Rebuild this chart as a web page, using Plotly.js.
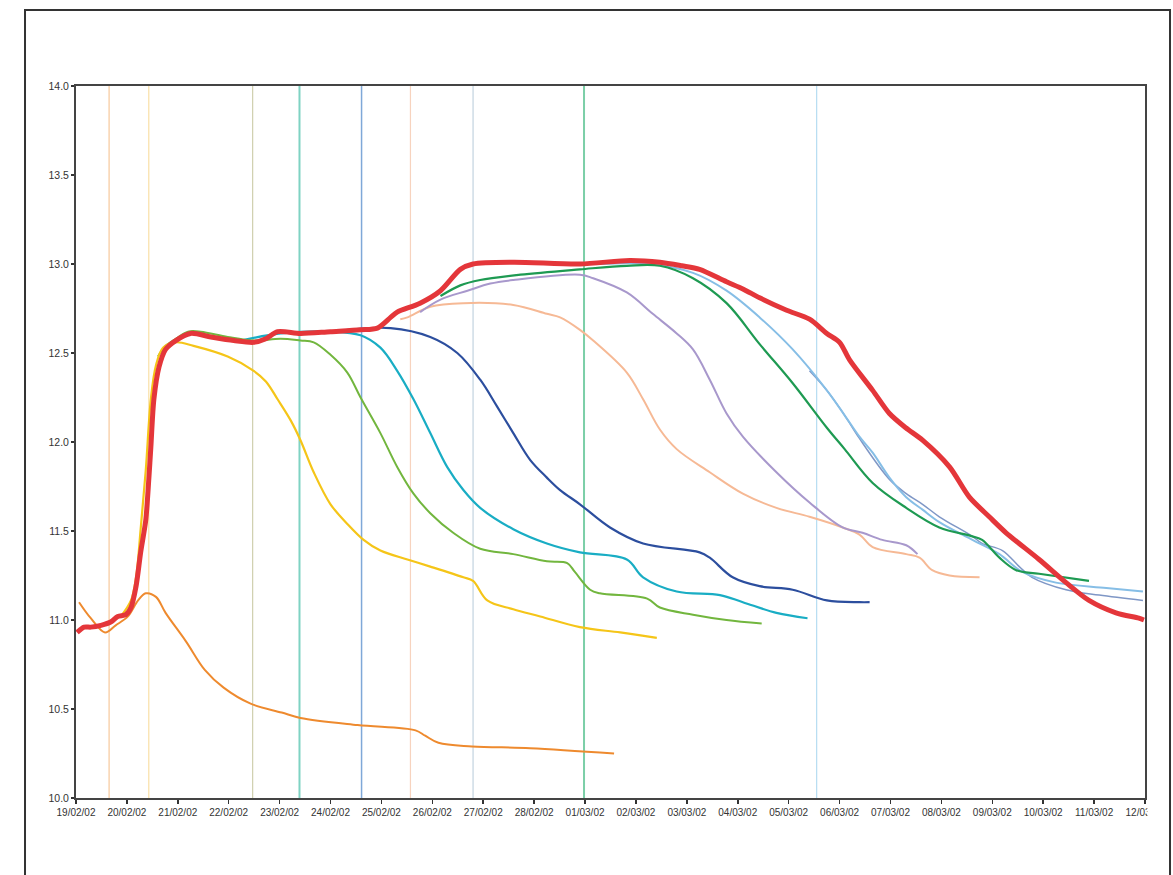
<!DOCTYPE html>
<html>
<head>
<meta charset="utf-8">
<script src="https://cdn.plot.ly/plotly-3.0.1.min.js"></script>
<style>
html,body{margin:0;padding:0;background:#fff;}
#chart{width:1173px;height:875px;}
</style>
</head>
<body>
<div id="chart"></div>
<script>
// x values are days after 19/02/02 00:00; y values are the plotted level
var startDate = '2002-02-19';
var endDate = '2002-03-12';

var observedDays = [0.02,0.16,0.29,0.49,0.69,0.82,0.98,1.08,1.18,1.27,1.37,1.43,1.47,1.53,1.63,1.76,1.96,2.25,2.65,3.10,3.49,3.73,3.96,4.41,5.00,5.59,5.92,6.18,6.31,6.76,7.16,7.55,7.80,8.59,9.90,10.88,11.47,11.90,12.25,12.78,13.10,13.43,13.96,14.41,14.75,15.00,15.20,15.65,15.98,16.30,16.63,17.16,17.55,17.94,18.27,18.92,19.45,19.90,20.43,20.88,20.98];
var observedVals = [10.93,10.96,10.96,10.97,10.99,11.02,11.03,11.07,11.19,11.38,11.56,11.79,11.97,12.24,12.42,12.52,12.57,12.61,12.59,12.57,12.56,12.58,12.62,12.61,12.62,12.63,12.64,12.70,12.73,12.78,12.85,12.97,13.00,13.01,13.00,13.02,13.01,12.99,12.97,12.90,12.86,12.81,12.74,12.69,12.61,12.56,12.46,12.29,12.16,12.08,12.01,11.86,11.69,11.58,11.49,11.34,11.21,11.11,11.04,11.01,11.00];

var orangeDays = [0.06,0.29,0.57,0.78,1.02,1.22,1.37,1.57,1.76,2.16,2.53,2.90,3.43,4.04,4.41,5.53,6.67,6.86,7.12,7.78,8.92,10.57];
var orangeVals = [11.10,11.01,10.93,10.97,11.02,11.11,11.15,11.13,11.04,10.88,10.72,10.62,10.53,10.48,10.45,10.41,10.38,10.35,10.31,10.29,10.28,10.25];

var yellowDays = [0.88,1.08,1.18,1.27,1.37,1.47,1.57,1.71,1.96,2.31,2.98,3.49,3.73,3.96,4.22,4.41,4.67,5.00,5.33,5.65,5.98,6.51,6.96,7.61,7.80,8.08,8.59,9.12,9.90,10.69,11.41];
var yellowVals = [11.02,11.11,11.24,11.51,11.84,12.24,12.43,12.53,12.56,12.54,12.48,12.40,12.34,12.24,12.12,12.01,11.83,11.65,11.54,11.45,11.39,11.34,11.30,11.24,11.22,11.11,11.06,11.02,10.96,10.93,10.90];

var limeDays = [1.61,1.76,1.96,2.20,2.45,2.98,3.49,4.02,4.41,4.67,5.00,5.33,5.59,5.98,6.31,6.63,6.96,7.41,7.94,8.59,9.25,9.65,9.80,10.10,10.29,11.22,11.47,12.12,12.78,13.47];
var limeVals = [12.48,12.54,12.58,12.62,12.62,12.59,12.57,12.58,12.57,12.56,12.49,12.39,12.25,12.05,11.86,11.71,11.60,11.49,11.40,11.37,11.33,11.32,11.27,11.17,11.15,11.12,11.07,11.03,11.00,10.98];

var tealDays = [3.24,4.02,5.00,5.59,5.98,6.31,6.63,6.96,7.29,7.61,7.94,8.59,9.25,9.90,10.82,11.14,11.80,12.65,13.10,13.76,14.37];
var tealVals = [12.57,12.61,12.62,12.60,12.53,12.40,12.24,12.05,11.86,11.73,11.63,11.51,11.43,11.38,11.34,11.24,11.16,11.14,11.10,11.04,11.01];

var blueDays = [5.00,6.18,6.96,7.49,7.94,8.27,8.59,8.92,9.25,9.51,9.90,10.49,11.14,12.25,12.45,12.90,13.43,14.08,14.75,15.39,15.59];
var blueVals = [12.62,12.64,12.59,12.50,12.35,12.20,12.05,11.90,11.80,11.73,11.65,11.52,11.43,11.38,11.35,11.24,11.19,11.17,11.11,11.10,11.10];

var peachDays = [6.37,6.51,6.96,7.61,8.59,9.25,9.51,9.90,10.16,10.82,11.14,11.47,11.80,12.45,13.10,13.76,14.41,15.06,15.39,15.65,16.31,16.57,16.82,17.16,17.75];
var peachVals = [12.69,12.70,12.76,12.78,12.77,12.72,12.70,12.63,12.57,12.39,12.24,12.07,11.96,11.83,11.71,11.63,11.58,11.52,11.48,11.41,11.37,11.35,11.28,11.25,11.24];

var lavenderDays = [6.76,7.16,7.69,8.14,8.59,9.90,10.16,10.82,11.33,11.80,12.12,12.45,12.78,13.10,13.76,14.41,15.06,15.45,15.84,16.31,16.53];
var lavenderVals = [12.73,12.80,12.85,12.89,12.91,12.94,12.92,12.84,12.72,12.61,12.52,12.35,12.16,12.03,11.83,11.66,11.52,11.49,11.45,11.42,11.37];

var greenDays = [7.16,7.55,7.94,8.73,9.90,10.82,11.47,12.12,12.78,13.43,14.08,14.75,15.10,15.65,16.31,16.96,17.61,17.80,18.14,18.47,18.92,19.90];
var greenVals = [12.82,12.88,12.91,12.94,12.97,12.99,12.99,12.92,12.78,12.55,12.33,12.08,11.96,11.77,11.63,11.52,11.47,11.45,11.35,11.28,11.26,11.22];

var skyDays = [10.29,11.27,12.12,12.78,13.43,14.08,14.75,15.10,15.39,15.65,15.98,16.31,16.63,16.96,17.61,18.14,18.59,19.25,20.24,20.96];
var skyVals = [13.00,13.00,12.95,12.85,12.70,12.52,12.29,12.15,12.03,11.94,11.80,11.69,11.62,11.55,11.45,11.37,11.27,11.21,11.18,11.16];

var steelDays = [14.41,14.75,15.10,15.39,15.98,16.31,16.63,16.96,17.61,17.80,18.20,18.53,18.78,19.45,20.10,20.96];
var steelVals = [12.40,12.29,12.15,12.02,11.79,11.71,11.65,11.58,11.47,11.43,11.39,11.30,11.24,11.17,11.14,11.11];

// start times of the runs (vertical markers), days after 19/02/02
var markerDays = [0.65,1.43,3.47,4.39,5.61,6.57,7.80,9.98,14.55];
var markerColors = ['#F7C89B','#F9DFA6','#CFCFAE','#7FD3C3','#7FA8D8','#F7D3BE','#C3D3DF','#7CCFA8','#B5DCF2'];
var markerWidths = [1.2,1.2,1.2,2,1.5,1.2,1.2,2,1.2];

var yTickVals = [10.0,10.5,11.0,11.5,12.0,12.5,13.0,13.5,14.0];

var base = Date.UTC(2002,1,19);
function pad(n){return (n<10?'0':'')+n;}
function toDate(d){
  var t = new Date(base + Math.round(d*86400000/60000)*60000);
  return t.getUTCFullYear()+'-'+pad(t.getUTCMonth()+1)+'-'+pad(t.getUTCDate())+' '+pad(t.getUTCHours())+':'+pad(t.getUTCMinutes());
}
function dates(arr){return arr.map(toDate);}

var traces = [];
markerDays.forEach(function(d,i){
  traces.push({x:[toDate(d),toDate(d)], y:[10,14], mode:'lines', line:{color:markerColors[i], width:markerWidths[i]}, hoverinfo:'skip', showlegend:false});
});

function series(days, vals, color, width){
  return {x:dates(days), y:vals, mode:'lines', line:{color:color, width:width, shape:'spline', smoothing:1}, showlegend:false};
}
traces.push(series(orangeDays, orangeVals, '#EE8A2E', 2));
traces.push(series(peachDays, peachVals, '#F6B995', 2));
traces.push(series(lavenderDays, lavenderVals, '#A898CC', 2));
traces.push(series(steelDays, steelVals, '#7F97C6', 1.5));
traces.push(series(skyDays, skyVals, '#86BEE6', 2));
traces.push(series(greenDays, greenVals, '#1E9A52', 2.2));
traces.push(series(blueDays, blueVals, '#2C4E9E', 2.2));
traces.push(series(tealDays, tealVals, '#19ADC4', 2.2));
traces.push(series(limeDays, limeVals, '#72B63E', 2));
traces.push(series(yellowDays, yellowVals, '#F5C518', 2.2));
traces.push({x:dates(observedDays), y:observedVals, mode:'lines', line:{color:'#E4363A', width:5, shape:'spline', smoothing:0.8}, showlegend:false});

var layout = {
  width:1173, height:875,
  margin:{l:76, r:28, t:86, b:77},
  paper_bgcolor:'#ffffff', plot_bgcolor:'#ffffff',
  showlegend:false,
  font:{family:'Liberation Sans, Arial, sans-serif', size:10, color:'#333'},
  xaxis:{
    type:'date', range:[startDate, endDate], dtick:86400000, tick0:startDate,
    tickformat:'%d/%m/%y', ticks:'outside', ticklen:4, tickcolor:'#333', tickwidth:1.5,
    showgrid:false, zeroline:false, showline:true, linecolor:'#444', linewidth:2, mirror:true,
    tickfont:{size:10, color:'#333'}
  },
  yaxis:{
    range:[10,14], tickvals:yTickVals, tickformat:'.1f', ticks:'outside', ticklen:3, tickcolor:'#333', tickwidth:1.5,
    showgrid:false, zeroline:false, showline:true, linecolor:'#444', linewidth:2, mirror:true,
    tickfont:{size:10.5, color:'#333'}
  },
  shapes:[
    {type:'rect', xref:'paper', yref:'paper', x0:1.0022, x1:1.021, y0:-0.06, y1:-0.004, fillcolor:'#ffffff', line:{width:0}, layer:'above'},
    {type:'rect', xref:'paper', yref:'paper', x0:-0.0477, x1:1.0234, y0:-0.13, y1:1.1067, fillcolor:'rgba(0,0,0,0)', line:{color:'#333', width:2}, layer:'above'}
  ]
};

Plotly.newPlot('chart', traces, layout, {staticPlot:true, displayModeBar:false});
</script>
</body>
</html>
